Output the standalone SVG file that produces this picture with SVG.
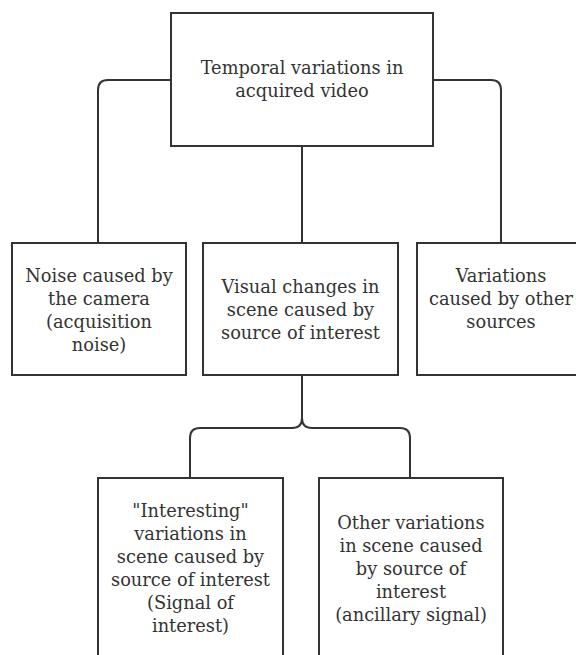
<svg xmlns="http://www.w3.org/2000/svg" width="576" height="655" viewBox="0 0 576 655">
<style>
.box{fill:#fff;stroke:#333;stroke-width:2}
.conn{fill:none;stroke:#333;stroke-width:2}
.t{font-family:'DejaVu Serif',serif;font-size:17.8px;fill:#333;text-anchor:middle}
</style>
<rect width="576" height="655" fill="#fff"/>
<g id="connectors">
<path class="conn" d="M171,80 H108 Q98,80 98,90 V243"/>
<path class="conn" d="M433,80 H491 Q501,80 501,90 V243"/>
<path class="conn" d="M302,146 V243"/>
<path class="conn" d="M302,375 V418 Q302,428 292,428 H200 Q190,428 190,438 V478"/>
<path class="conn" d="M302,418 Q302,428 312,428 H400 Q410,428 410,438 V478"/>
</g>
<g id="root">
<rect class="box" x="171" y="13" width="262" height="133"/>
<text class="t" x="302" y="74">Temporal variations in</text>
<text class="t" x="302" y="97">acquired video</text>
</g>
<g id="noise">
<rect class="box" x="12" y="243" width="174" height="132"/>
<text class="t" x="99" y="281.5">Noise caused by</text>
<text class="t" x="99" y="304.5">the camera</text>
<text class="t" x="99" y="327.5">(acquisition</text>
<text class="t" x="99" y="350.5">noise)</text>
</g>
<g id="visual">
<rect class="box" x="203" y="243" width="195" height="132"/>
<text class="t" x="300.5" y="293">Visual changes in</text>
<text class="t" x="300.5" y="316">scene caused by</text>
<text class="t" x="300.5" y="339">source of interest</text>
</g>
<g id="other-sources">
<rect class="box" x="417" y="243" width="170" height="132"/>
<text class="t" x="501" y="282">Variations</text>
<text class="t" x="501" y="305">caused by other</text>
<text class="t" x="501" y="328">sources</text>
</g>
<g id="interesting">
<rect class="box" x="98" y="478" width="185" height="182"/>
<text class="t" x="190.5" y="517">"Interesting"</text>
<text class="t" x="190.5" y="540">variations in</text>
<text class="t" x="190.5" y="563">scene caused by</text>
<text class="t" x="190.5" y="586">source of interest</text>
<text class="t" x="190.5" y="609">(Signal of</text>
<text class="t" x="190.5" y="632">interest)</text>
</g>
<g id="ancillary">
<rect class="box" x="319" y="478" width="184" height="182"/>
<text class="t" x="411" y="529">Other variations</text>
<text class="t" x="411" y="552">in scene caused</text>
<text class="t" x="411" y="575">by source of</text>
<text class="t" x="411" y="598">interest</text>
<text class="t" x="411" y="621">(ancillary signal)</text>
</g>
</svg>
